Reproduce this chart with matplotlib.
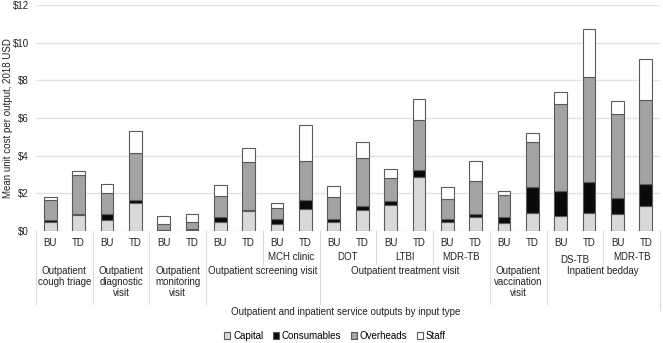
import matplotlib
matplotlib.use("Agg")
import matplotlib.pyplot as plt
import matplotlib.transforms as mtransforms
from matplotlib.patches import Patch
import numpy as np

plt.rcParams['font.family'] = ['Liberation Sans', 'DejaVu Sans']

bar_labels = ["BU", "TD"] * 11
capital = [0.48, 0.87, 0.60, 1.50, 0.04, 0.07, 0.46, 1.04, 0.35, 1.15, 0.48, 1.10,
           1.36, 2.85, 0.46, 0.76, 0.44, 0.97, 0.78, 0.97, 0.92, 1.31]
consumables = [0.10, 0.05, 0.28, 0.13, 0.01, 0.01, 0.28, 0.09, 0.30, 0.51, 0.17, 0.23,
               0.23, 0.39, 0.18, 0.12, 0.30, 1.35, 1.33, 1.65, 0.85, 1.17]
overheads = [1.05, 2.05, 1.16, 2.53, 0.30, 0.38, 1.12, 2.53, 0.59, 2.07, 1.17, 2.56,
             1.21, 2.67, 1.08, 1.76, 1.17, 2.39, 4.65, 5.57, 4.46, 4.49]
staff = [0.17, 0.23, 0.47, 1.13, 0.46, 0.44, 0.60, 0.76, 0.23, 1.90, 0.55, 0.84,
         0.51, 1.08, 0.63, 1.08, 0.21, 0.49, 0.64, 2.52, 0.69, 2.18]

sub_labels = ["", "", "", "", "MCH clinic", "DOT", "LTBI", "MDR-TB", "", "DS-TB", "MDR-TB"]
main_labels = ["Outpatient\ncough triage", "Outpatient\ndiagnostic\nvisit",
               "Outpatient\nmonitoring\nvisit", "Outpatient screening visit",
               "Outpatient treatment visit", "Outpatient\nvaccination\nvisit",
               "Inpatient bedday"]
main_spans = [(0, 0), (1, 1), (2, 2), (3, 4), (5, 7), (8, 8), (9, 10)]
series_names = ["Capital", "Consumables", "Overheads", "Staff"]
colors = ["#d9d9d9", "#0a0a0a", "#a3a3a3", "#ffffff"]
yticks = [0, 2, 4, 6, 8, 10, 12]

FS = 7
TC = "#222222"
W, H = 663, 343
fig = plt.figure(figsize=(W / 100, H / 100), dpi=100)
ax_left, ax_right, ax_top, ax_bot = 36, 660, 5, 231
ax = fig.add_axes([ax_left / W, (H - ax_bot) / H, (ax_right - ax_left) / W, (ax_bot - ax_top) / H])

x = np.arange(len(bar_labels))
bottom = np.zeros(len(x))
for vals, c, name in zip([capital, consumables, overheads, staff], colors, series_names):
    ax.bar(x, vals, bottom=bottom, width=0.45, color=c, edgecolor="#5a5a5a",
           linewidth=0.8, label=name, zorder=3)
    bottom += np.array(vals)

ax.set_xlim(-0.5, len(x) - 0.5)
ax.set_ylim(0, 12)
ax.set_yticks(yticks)
ax.set_yticklabels([f"${v}" for v in yticks], fontsize=FS, color=TC)
ax.yaxis.grid(True, color="#e3e3e3", linewidth=1.0, zorder=0)
ax.set_axisbelow(True)
for s in ax.spines.values():
    s.set_visible(False)
ax.tick_params(axis="y", length=0, pad=5)
ax.set_xticks(x)
ax.set_xticklabels(bar_labels, fontsize=FS, color=TC)
ax.tick_params(axis="x", length=0, pad=5)

fig.text(8 / W, 1 - 118 / H, "Mean unit cost per output, 2018 USD", rotation=90,
         ha="center", va="center", fontsize=FS, color=TC)

trans = mtransforms.blended_transform_factory(ax.transData, ax.transAxes)
ph = ax_bot - ax_top
def yf(py):
    return (ax_bot - py) / ph

main_bounds = [-0.5, 1.5, 3.5, 5.5, 9.5, 15.5, 17.5]
sub_bounds = [7.5, 11.5, 13.5, 19.5]
for b in main_bounds:
    ax.plot([b, b], [0, yf(304)], transform=trans, color="#dcdcdc", lw=0.8, clip_on=False)
ax.plot([21.5, 21.5], [0, yf(310)], transform=trans, color="#dcdcdc", lw=0.8, clip_on=False)
for b in sub_bounds:
    ax.plot([b, b], [0, yf(264)], transform=trans, color="#dcdcdc", lw=0.8, clip_on=False)

for i, lab in enumerate(sub_labels):
    if lab:
        yy = 260 if lab == "DS-TB" else 257
        ax.text(2 * i + 0.5, yf(yy), lab, transform=trans, ha="center", va="center",
                fontsize=FS, color=TC)
for lab, (a, b) in zip(main_labels, main_spans):
    xc = (2 * a + 2 * b + 1) / 2
    ax.text(xc, yf(265.5), lab, transform=trans, ha="center", va="top",
            fontsize=FS, color=TC, linespacing=1.15)

fig.text(346 / W, 1 - 312 / H,
         "Outpatient and inpatient service outputs by input type",
         ha="center", va="center", fontsize=FS, color=TC)

handles = [Patch(facecolor=c, edgecolor="#5a5a5a", linewidth=0.8) for c in colors]
fig.legend(handles, series_names, loc="center", bbox_to_anchor=(335 / W, 1 - 336 / H),
           ncol=4, frameon=False, fontsize=FS, handlelength=0.6, handleheight=0.6,
           handletextpad=0.3, columnspacing=1.0, borderpad=0)

fig.savefig("out.png", dpi=100)
